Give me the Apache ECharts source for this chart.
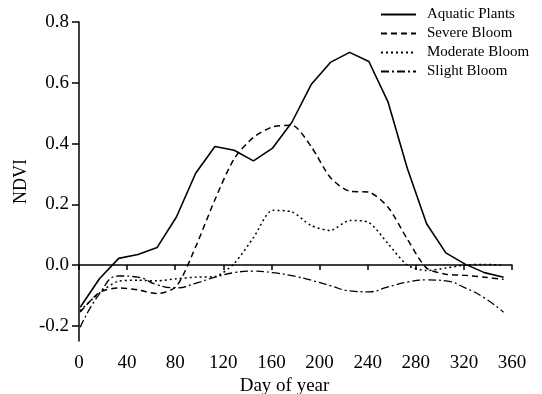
<!DOCTYPE html>
<html>
<head>
<meta charset="utf-8">
<script src="https://cdn.jsdelivr.net/npm/echarts@6/dist/echarts.min.js"></script>
<style>
  html, body {margin: 0; padding: 0; background: #fff;}
  #chart {width: 542px; height: 394px;}
</style>
</head>
<body>
<div id="chart"></div>
<script>
// 16-day composite days
const days = [1, 17, 33, 49, 65, 81, 97, 113, 129, 145, 161, 177, 193, 209, 225, 241, 257, 273, 289, 305, 321, 337, 353];
const aquaticPlants = [-0.139, -0.045, 0.022, 0.035, 0.058, 0.158, 0.302, 0.39, 0.378, 0.343, 0.385, 0.47, 0.594, 0.667, 0.70, 0.67, 0.536, 0.318, 0.136, 0.04, 0.003, -0.025, -0.04];
const severeBloom = [-0.155, -0.09, -0.075, -0.082, -0.094, -0.07, 0.06, 0.215, 0.35, 0.42, 0.455, 0.46, 0.39, 0.288, 0.243, 0.24, 0.19, 0.085, -0.01, -0.03, -0.034, -0.04, -0.047];
const moderateBloom = [-0.15, -0.092, -0.053, -0.05, -0.052, -0.045, -0.04, -0.038, 0.005, 0.09, 0.18, 0.175, 0.13, 0.114, 0.147, 0.14, 0.07, 0.0, -0.018, -0.01, 0.0, 0.002, 0.0];
const slightBloom = [-0.205, -0.095, -0.036, -0.04, -0.065, -0.075, -0.06, -0.04, -0.025, -0.02, -0.025, -0.035, -0.05, -0.068, -0.085, -0.088, -0.072, -0.056, -0.049, -0.052, -0.075, -0.108, -0.155];
const yTicks = [-0.2, 0, 0.2, 0.4, 0.6, 0.8];

const pairs = arr => days.map((d, i) => [d, arr[i]]);
const font = 'Liberation Serif';

const myChart = echarts.init(document.getElementById('chart'));
myChart.setOption({
  animation: false,
  grid: {left: 79, right: 30, top: 22, bottom: 53, containLabel: false, outerBoundsMode: 'none'},
  legend: {
    orient: 'vertical',
    left: 380,
    top: 7,
    padding: 0,
    itemWidth: 35,
    itemHeight: 14,
    itemGap: 4,
    itemStyle: {opacity: 0},
    textStyle: {fontFamily: font, fontSize: 15, color: '#000', padding: [0, 0, 0, 6]},
    data: ['Aquatic Plants', 'Severe Bloom', 'Moderate Bloom', 'Slight Bloom']
  },
  xAxis: {
    type: 'value',
    min: 0,
    max: 360,
    interval: 40,
    name: 'Day of year',
    nameLocation: 'middle',
    nameGap: 36,
    nameMoveOverlap: false,
    nameTextStyle: {fontFamily: font, fontSize: 19, color: '#000', padding: [0, 22, 0, 0]},
    axisLine: {lineStyle: {color: '#000', width: 1.5}},
    axisTick: {length: 5, lineStyle: {color: '#000', width: 1.5}},
    axisLabel: {fontFamily: font, fontSize: 19, color: '#000', margin: 13},
    splitLine: {show: false}
  },
  yAxis: {
    type: 'value',
    min: -0.25,
    max: 0.8,
    name: 'NDVI',
    nameLocation: 'middle',
    nameGap: 49,
    nameMoveOverlap: false,
    nameTextStyle: {fontFamily: font, fontSize: 18, color: '#000'},
    axisLine: {show: true, lineStyle: {color: '#000', width: 1.5}},
    axisTick: {show: true, length: 7, customValues: yTicks, lineStyle: {color: '#000', width: 1.5}},
    axisLabel: {
      fontFamily: font, fontSize: 19, color: '#000', margin: 10,
      customValues: yTicks,
      formatter(val) {
        return val.toFixed(1);
      }
    },
    splitLine: {show: false}
  },
  series: [
    {
      name: 'Aquatic Plants',
      type: 'line',
      symbol: 'none',
      data: pairs(aquaticPlants),
      lineStyle: {color: '#000', width: 1.6, type: 'solid'}
    },
    {
      name: 'Severe Bloom',
      type: 'line',
      symbol: 'none',
      smooth: 0.25,
      data: pairs(severeBloom),
      lineStyle: {color: '#000', width: 1.5, type: [6, 4]}
    },
    {
      name: 'Moderate Bloom',
      type: 'line',
      symbol: 'none',
      smooth: 0.25,
      data: pairs(moderateBloom),
      lineStyle: {color: '#000', width: 1.5, type: [2, 3]}
    },
    {
      name: 'Slight Bloom',
      type: 'line',
      symbol: 'none',
      smooth: 0.5,
      data: pairs(slightBloom),
      lineStyle: {color: '#000', width: 1.3, type: [8, 3, 2, 3]}
    }
  ]
});
</script>
</body>
</html>
